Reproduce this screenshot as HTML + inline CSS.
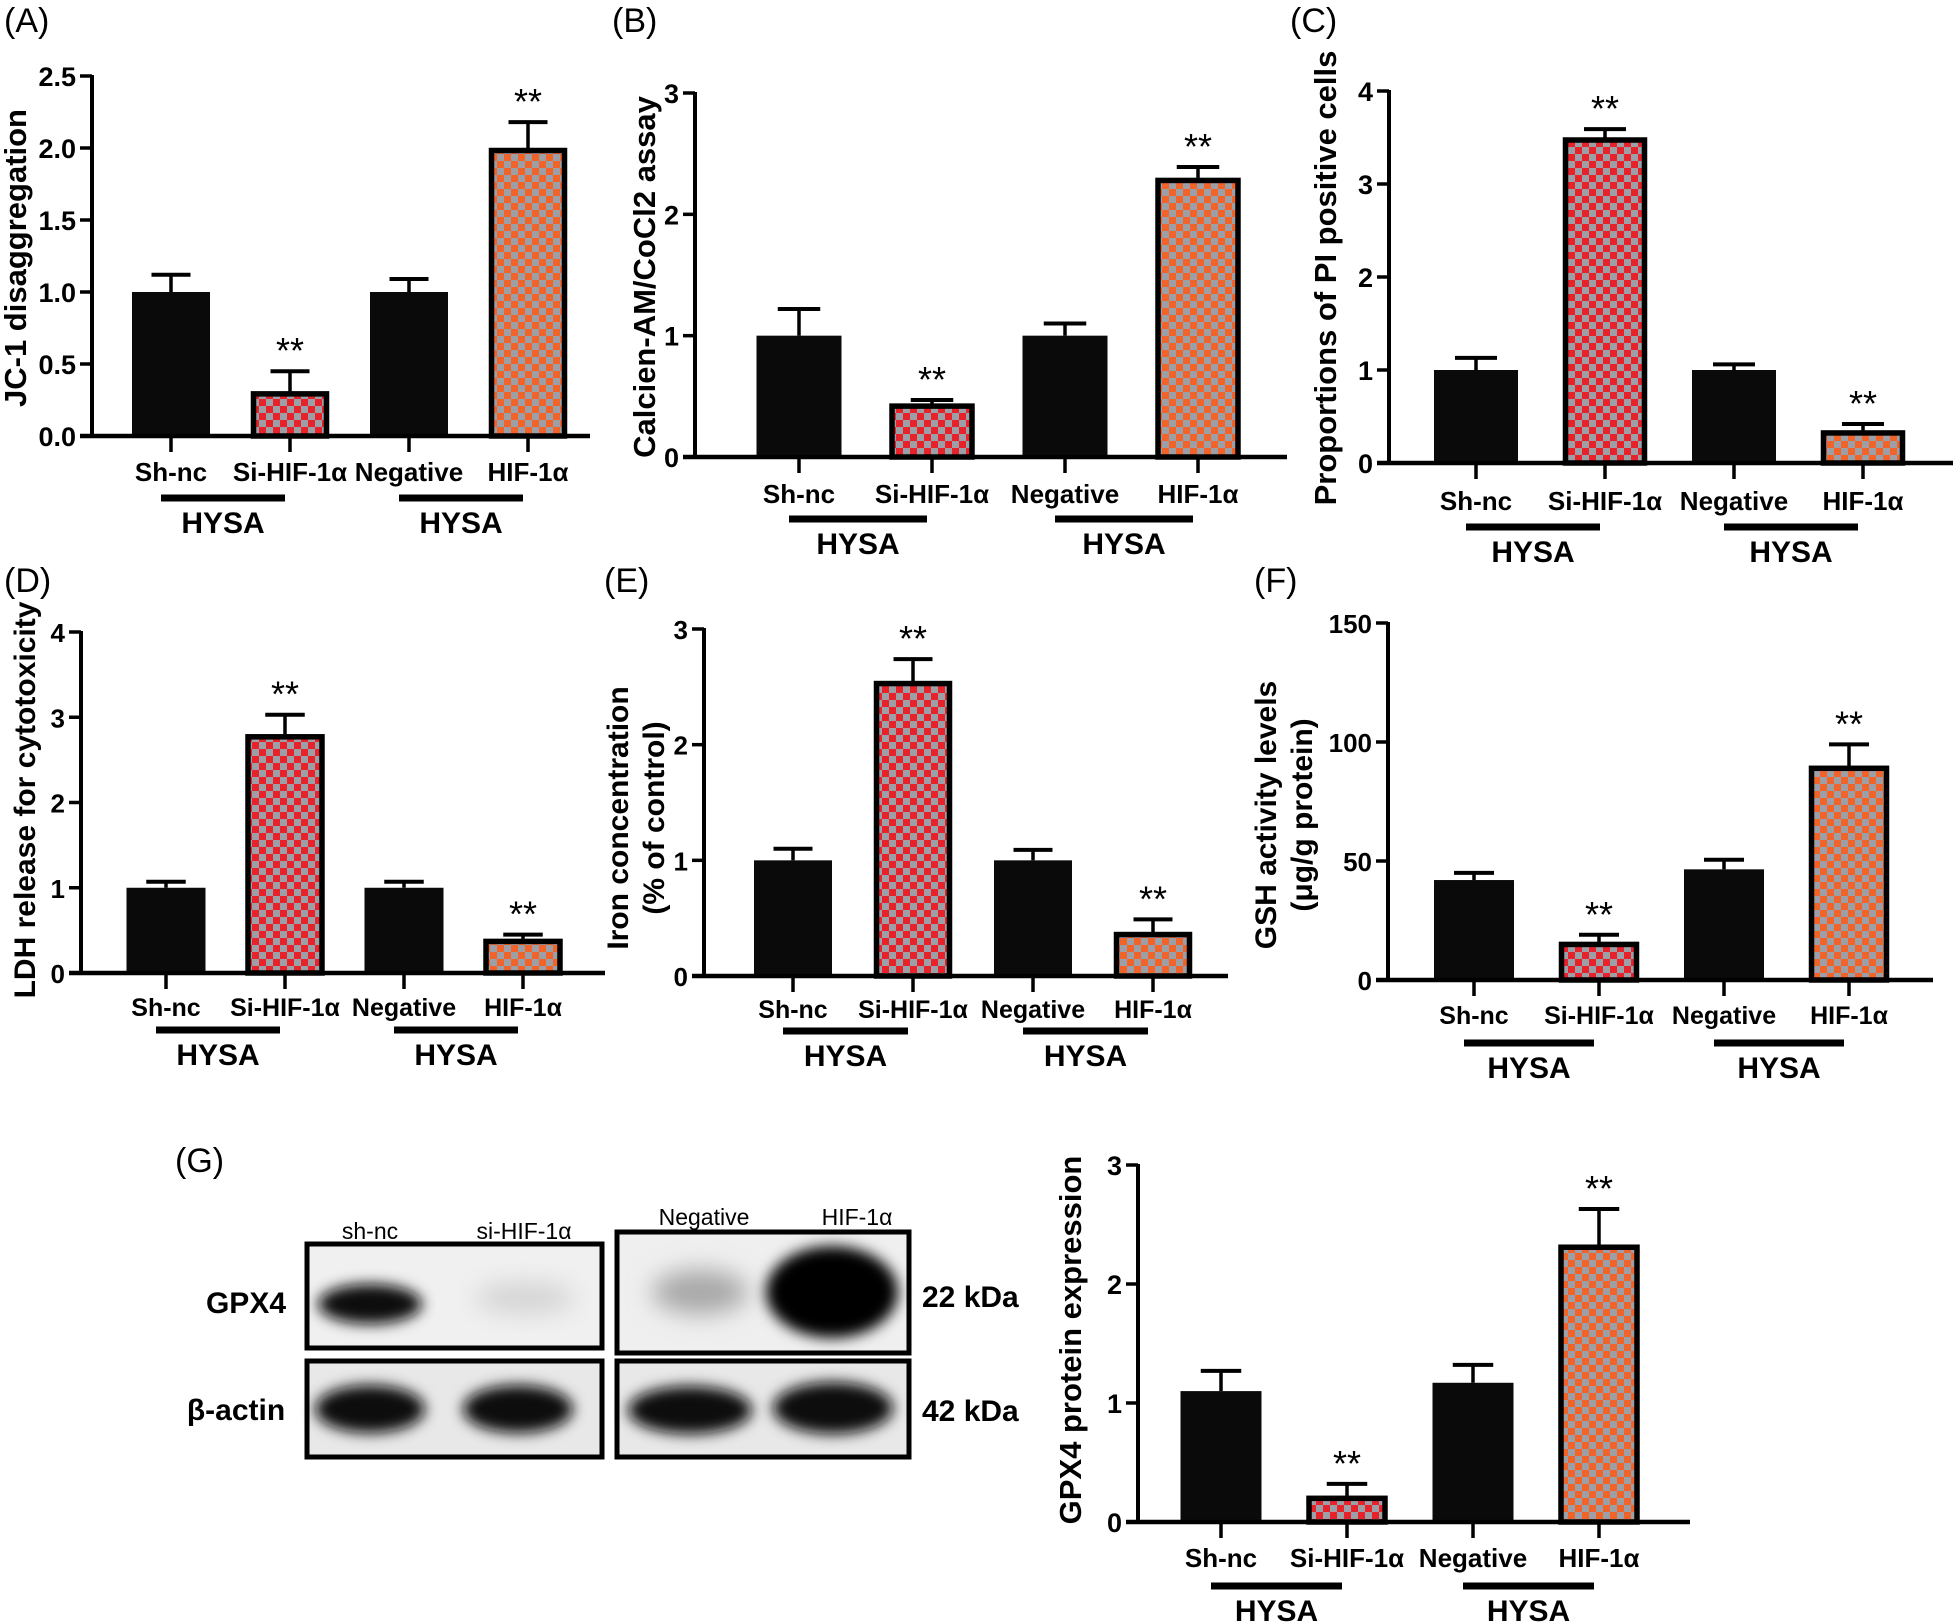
<!DOCTYPE html>
<html><head><meta charset="utf-8">
<style>
html,body{margin:0;padding:0;background:#fff;}
svg{display:block;}
text{font-family:"Liberation Sans",Arial,sans-serif;}
</style></head>
<body>
<svg id="fig" xmlns="http://www.w3.org/2000/svg" width="1955" height="1624" viewBox="0 0 1955 1624">
<defs>
<pattern id="chkRed" width="14" height="14" patternUnits="userSpaceOnUse">
<rect width="14" height="14" fill="#9c9fa6"/><rect width="7" height="7" fill="#e8222b"/><rect x="7" y="7" width="7" height="7" fill="#e8222b"/>
</pattern>
<pattern id="chkOr" width="14" height="14" patternUnits="userSpaceOnUse">
<rect width="14" height="14" fill="#9c9fa6"/><rect width="7" height="7" fill="#f2632a"/><rect x="7" y="7" width="7" height="7" fill="#f2632a"/>
</pattern>
<filter id="blur6" x="-30%" y="-60%" width="160%" height="220%"><feGaussianBlur stdDeviation="7"/></filter>
<filter id="blur12" x="-30%" y="-60%" width="160%" height="220%"><feGaussianBlur stdDeviation="12"/></filter>
</defs>

<g>
<text x="175" y="1172" font-size="34">(G)</text>
<g>
<rect x="307" y="1244" width="295" height="104" fill="#f0f0f0" stroke="#000" stroke-width="5"/>
<ellipse cx="370" cy="1304" rx="52" ry="20" fill="#0a0a0a" filter="url(#blur6)"/>
<ellipse cx="525" cy="1298" rx="50" ry="16" fill="#d4d4d4" filter="url(#blur12)"/>
</g>
<g>
<rect x="617" y="1232" width="292" height="121" fill="#efefef" stroke="#000" stroke-width="5"/>
<ellipse cx="700" cy="1292" rx="48" ry="22" fill="#a8a8a8" filter="url(#blur12)"/>
<ellipse cx="832" cy="1292" rx="66" ry="46" fill="#050505" filter="url(#blur6)"/>
</g>
<g>
<rect x="307" y="1361" width="295" height="96" fill="#e8e8e8" stroke="#000" stroke-width="5"/>
<ellipse cx="370" cy="1409" rx="55" ry="24" fill="#080808" filter="url(#blur6)"/>
<ellipse cx="518" cy="1409" rx="55" ry="24" fill="#080808" filter="url(#blur6)"/>
</g>
<g>
<rect x="617" y="1361" width="292" height="96" fill="#e8e8e8" stroke="#000" stroke-width="5"/>
<ellipse cx="690" cy="1410" rx="62" ry="24" fill="#080808" filter="url(#blur6)"/>
<ellipse cx="833" cy="1408" rx="60" ry="26" fill="#080808" filter="url(#blur6)"/>
</g>
<text x="370" y="1239" font-size="23" text-anchor="middle">sh-nc</text>
<text x="524" y="1239" font-size="23" text-anchor="middle">si-HIF-1α</text>
<text x="704" y="1225" font-size="23" text-anchor="middle">Negative</text>
<text x="857" y="1225" font-size="23" text-anchor="middle">HIF-1α</text>
<text x="246" y="1313" font-size="30" font-weight="bold" text-anchor="middle">GPX4</text>
<text x="236" y="1420" font-size="30" font-weight="bold" text-anchor="middle">β-actin</text>
<text x="922" y="1307" font-size="30" font-weight="bold">22 kDa</text>
<text x="922" y="1421" font-size="30" font-weight="bold">42 kDa</text>
</g>
</svg>

<script>
const categories = ["Sh-nc", "Si-HIF-1α", "Negative", "HIF-1α"];

const valsA = [1.0, 0.31, 1.0, 2.0];
const errA  = [0.12, 0.14, 0.09, 0.18];
const ticksA = [0, 0.5, 1.0, 1.5, 2.0, 2.5];
const tickLabelsA = ["0.0", "0.5", "1.0", "1.5", "2.0", "2.5"];
const sigA = [false, true, false, true];

const valsB = [1.0, 0.44, 1.0, 2.3];
const errB  = [0.22, 0.03, 0.10, 0.09];
const ticksB = [0, 1, 2, 3];
const sigB = [false, true, false, true];

const valsC = [1.0, 3.5, 1.0, 0.35];
const errC  = [0.13, 0.09, 0.06, 0.07];
const ticksC = [0, 1, 2, 3, 4];
const sigC = [false, true, false, true];

const valsD = [1.0, 2.8, 1.0, 0.4];
const errD  = [0.07, 0.23, 0.07, 0.05];
const ticksD = [0, 1, 2, 3, 4];
const sigD = [false, true, false, true];

const valsE = [1.0, 2.55, 1.0, 0.38];
const errE  = [0.10, 0.19, 0.09, 0.11];
const ticksE = [0, 1, 2, 3];
const sigE = [false, true, false, true];

const valsF = [42, 16, 46.5, 90];
const errF  = [3, 3, 4, 9];
const ticksF = [0, 50, 100, 150];
const sigF = [false, true, false, true];

const valsG = [1.1, 0.22, 1.17, 2.33];
const errG  = [0.17, 0.10, 0.15, 0.30];
const ticksG = [0, 1, 2, 3];
const sigG = [false, true, false, true];

const NS = "http://www.w3.org/2000/svg";
const svg = document.getElementById("fig");
function mk(tag, attrs, parent) {
  const e = document.createElementNS(NS, tag);
  for (const k in attrs) e.setAttribute(k, attrs[k]);
  (parent || svg).appendChild(e);
  return e;
}
const fills = ["#0a0a0a", "url(#chkRed)", "#0a0a0a", "url(#chkOr)"];

function panel(p) {
  const g = mk("g", {});
  
  
  const yScale = v => p.base - (v - p.min) / (p.max - p.min) * (p.base - p.top);
  const xScale = i => p.c0 + i * p.step;

  const lab = mk("text", {x: p.labX, y: p.labY, "font-size": 34}, g);
  lab.textContent = "(" + p.id.toUpperCase() + ")";
  
  

  p.vals.forEach((v, i) => {
    const cx = xScale(i), w = p.w;
    const yt = yScale(v), yb = yScale(p.min);
    const eTop = yScale(v + p.err[i]);
    const eb = mk("line", {x1: cx, x2: cx, y1: yt, y2: eTop, stroke: "#000", "stroke-width": 3.5}, g);
    
    
    const cap = mk("line", {x1: cx - w * 0.25, x2: cx + w * 0.25, y1: eTop, y2: eTop, stroke: "#000", "stroke-width": 4}, g);
    
    
    let r;
    if (i % 2 === 0) {
      r = mk("rect", {x: cx - w / 2, y: yt, width: w, height: yb - yt, fill: fills[i]}, g);
    } else {
      r = mk("rect", {x: cx - w / 2 + 2.5, y: yt + 2.5, width: w - 5, height: Math.max(0, yb - yt - 2.5), fill: fills[i], stroke: "#000", "stroke-width": 5.5}, g);
    }
    
    
    if (p.sig[i]) {
      const s = mk("text", {x: cx, y: eTop - 8, "font-size": 36, "text-anchor": "middle"}, g);
      s.textContent = "**";
      
      
    }
    const t = mk("line", {x1: cx, x2: cx, y1: p.base, y2: p.base + 16, stroke: "#000", "stroke-width": 3.5}, g);
    
    
    const cl = mk("text", {x: cx, y: p.catY, "font-size": p.fs, "font-weight": "bold", "text-anchor": "middle"}, g);
    cl.textContent = categories[i];
    
    
  });

  const ya = mk("line", {x1: p.ax, x2: p.ax, y1: p.top - 1, y2: p.base + 2, stroke: "#000", "stroke-width": 4}, g);
  
  
  const xa = mk("line", {x1: p.ax - 12, x2: p.right, y1: p.base, y2: p.base, stroke: "#000", "stroke-width": 4.5}, g);
  
  
  p.ticks.forEach((tv, k) => {
    const y = yScale(tv);
    const tl = mk("line", {x1: p.ax - 12, x2: p.ax, y1: y, y2: y, stroke: "#000", "stroke-width": 3.5}, g);
    
    
    const tt = mk("text", {x: p.ax - 16, y: y + 10, "font-size": p.fs + 1, "font-weight": "bold", "text-anchor": "end"}, g);
    tt.textContent = p.tickLabels ? p.tickLabels[k] : String(tv);
    
    
  });

  [0, 2].forEach(i => {
    const x1 = xScale(i) - 10, x2 = xScale(i + 1) - 5;
    const gl = mk("line", {x1: x1, x2: x2, y1: p.lineY, y2: p.lineY, stroke: "#000", "stroke-width": 7}, g);
    
    
    const ht = mk("text", {x: (x1 + x2) / 2, y: p.lineY + 35, "font-size": 30, "font-weight": "bold", "text-anchor": "middle"}, g);
    ht.textContent = "HYSA";
    
    
  });

  p.title.forEach((line, k) => {
    const tx = p.titleX + k * 36;
    const yt = mk("text", {x: 0, y: 0, "font-size": p.tfs || 30, "font-weight": "bold", "text-anchor": "middle",
      transform: "translate(" + tx + "," + p.titleY + ") rotate(-90)"}, g);
    yt.textContent = line;
    
    
  });
}

panel({id: "a", vals: valsA, err: errA, ticks: ticksA, tickLabels: tickLabelsA, sig: sigA, min: 0, max: 2.5,
  ax: 92, top: 76, base: 436, right: 590, c0: 171, step: 119, w: 78, catY: 481, lineY: 498, fs: 26,
  labX: 4, labY: 32, title: ["JC-1 disaggregation"], titleX: 26, titleY: 258, tfs: 31});
panel({id: "b", vals: valsB, err: errB, ticks: ticksB, sig: sigB, min: 0, max: 3,
  ax: 695, top: 93, base: 457, right: 1287, c0: 799, step: 133, w: 85, catY: 503, lineY: 519, fs: 26,
  labX: 612, labY: 32, title: ["Calcien-AM/CoCl2 assay"], titleX: 655, titleY: 277, tfs: 31});
panel({id: "c", vals: valsC, err: errC, ticks: ticksC, sig: sigC, min: 0, max: 4,
  ax: 1389, top: 91, base: 463, right: 1953, c0: 1476, step: 129, w: 84, catY: 510, lineY: 527, fs: 26,
  labX: 1290, labY: 32, title: ["Proportions of PI positive cells"], titleX: 1336, titleY: 278, tfs: 31});
panel({id: "d", vals: valsD, err: errD, ticks: ticksD, sig: sigD, min: 0, max: 4,
  ax: 81, top: 632, base: 973, right: 605, c0: 166, step: 119, w: 79, catY: 1016, lineY: 1030, fs: 25,
  labX: 4, labY: 592, title: ["LDH release for cytotoxicity"], titleX: 35, titleY: 800, tfs: 30});
panel({id: "e", vals: valsE, err: errE, ticks: ticksE, sig: sigE, min: 0, max: 3,
  ax: 704, top: 629, base: 976, right: 1228, c0: 793, step: 120, w: 78, catY: 1018, lineY: 1031, fs: 25,
  labX: 604, labY: 592, title: ["Iron concentration", "(% of control)"], titleX: 628, titleY: 818, tfs: 30});
panel({id: "f", vals: valsF, err: errF, ticks: ticksF, sig: sigF, min: 0, max: 150,
  ax: 1388, top: 623, base: 980, right: 1933, c0: 1474, step: 125, w: 80, catY: 1024, lineY: 1043, fs: 25,
  labX: 1254, labY: 592, title: ["GSH activity levels", "(μg/g protein)"], titleX: 1276, titleY: 815, tfs: 30});
panel({id: "g-chart", vals: valsG, err: errG, ticks: ticksG, sig: sigG, min: 0, max: 3,
  ax: 1138, top: 1165, base: 1522, right: 1690, c0: 1221, step: 126, w: 81, catY: 1567, lineY: 1586, fs: 26,
  labX: -200, labY: -200, title: ["GPX4 protein expression"], titleX: 1081, titleY: 1340, tfs: 31});
</script>
</body></html>
